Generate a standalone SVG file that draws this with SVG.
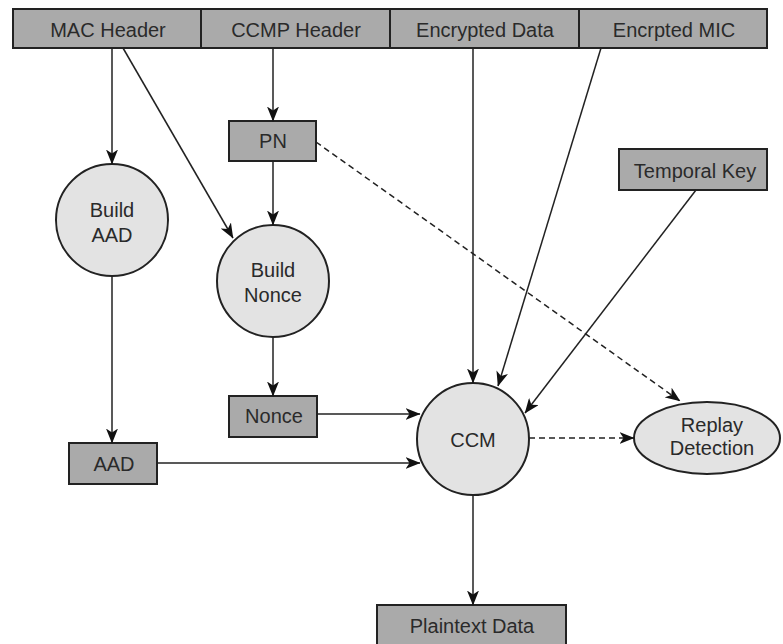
<svg xmlns="http://www.w3.org/2000/svg" width="783" height="644" viewBox="0 0 783 644">
  <style>
    .box { fill: #aaaaaa; stroke: #222; stroke-width: 2; }
    .proc { fill: #e3e3e3; stroke: #222; stroke-width: 2; }
    .lbl { font-family: "Liberation Sans", Arial, sans-serif; font-size: 20px; fill: #2a2a2a; text-anchor: middle; }
    .edge { fill: none; stroke: #222; stroke-width: 1.5; marker-end: url(#arrow); }
    .dash { stroke-dasharray: 6 4; }
  </style>
  <defs>
    <marker id="arrow" viewBox="0 0 15 12" refX="14.5" refY="6" markerWidth="15" markerHeight="12" markerUnits="userSpaceOnUse" orient="auto">
      <path d="M0,0 L15,6 L0,12 L4,6 Z" fill="#111"/>
    </marker>
  </defs>

  <!-- frame header fields -->
  <g id="mac-header">
    <rect class="box" x="13" y="9" width="188" height="39"/>
    <text class="lbl" x="108" y="37">MAC Header</text>
  </g>
  <g id="ccmp-header">
    <rect class="box" x="201" y="9" width="189" height="39"/>
    <text class="lbl" x="296" y="37">CCMP Header</text>
  </g>
  <g id="encrypted-data">
    <rect class="box" x="390" y="9" width="189" height="39"/>
    <text class="lbl" x="485" y="37">Encrypted Data</text>
  </g>
  <g id="encrypted-mic">
    <rect class="box" x="579" y="9" width="188" height="39"/>
    <text class="lbl" x="674" y="37">Encrpted MIC</text>
  </g>

  <g id="pn">
    <rect class="box" x="229" y="121" width="87" height="40"/>
    <text class="lbl" x="273" y="148">PN</text>
  </g>
  <g id="temporal-key">
    <rect class="box" x="619" y="149" width="148" height="41"/>
    <text class="lbl" x="695" y="178">Temporal Key</text>
  </g>
  <g id="build-aad">
    <circle class="proc" cx="112" cy="220" r="56"/>
    <text class="lbl" x="112" y="217">Build</text>
    <text class="lbl" x="112" y="242">AAD</text>
  </g>
  <g id="build-nonce">
    <circle class="proc" cx="273" cy="281" r="56"/>
    <text class="lbl" x="273" y="277">Build</text>
    <text class="lbl" x="273" y="302">Nonce</text>
  </g>
  <g id="nonce">
    <rect class="box" x="229" y="396" width="88" height="41"/>
    <text class="lbl" x="274" y="423">Nonce</text>
  </g>
  <g id="aad">
    <rect class="box" x="69" y="443" width="88" height="41"/>
    <text class="lbl" x="114" y="471">AAD</text>
  </g>
  <g id="ccm">
    <circle class="proc" cx="473" cy="439" r="56"/>
    <text class="lbl" x="473" y="447">CCM</text>
  </g>
  <g id="replay-detection">
    <ellipse class="proc" cx="707" cy="438" rx="73" ry="36"/>
    <text class="lbl" x="712" y="432">Replay</text>
    <text class="lbl" x="712" y="455">Detection</text>
  </g>
  <g id="plaintext-data">
    <rect class="box" x="377" y="605" width="189" height="44"/>
    <text class="lbl" x="472" y="633">Plaintext Data</text>
  </g>

  <!-- connectors -->
  <g id="connectors">
    <path class="edge" d="M112,48 L112,164"/>
    <path class="edge" d="M123,48 L233,238"/>
    <path class="edge" d="M273,48 L273,121"/>
    <path class="edge" d="M273,161 L273,225"/>
    <path class="edge" d="M273,337 L273,396"/>
    <path class="edge" d="M112,276 L112,443"/>
    <path class="edge" d="M317,414 L420,414"/>
    <path class="edge" d="M157,463 L420,463"/>
    <path class="edge" d="M473,48 L473,383"/>
    <path class="edge" d="M601,48 L498,386"/>
    <path class="edge" d="M696,190 L525,413"/>
    <path class="edge dash" d="M316,142 L680,401"/>
    <path class="edge dash" d="M529,438 L634,438"/>
    <path class="edge" d="M473,495 L473,605"/>
  </g>
</svg>
